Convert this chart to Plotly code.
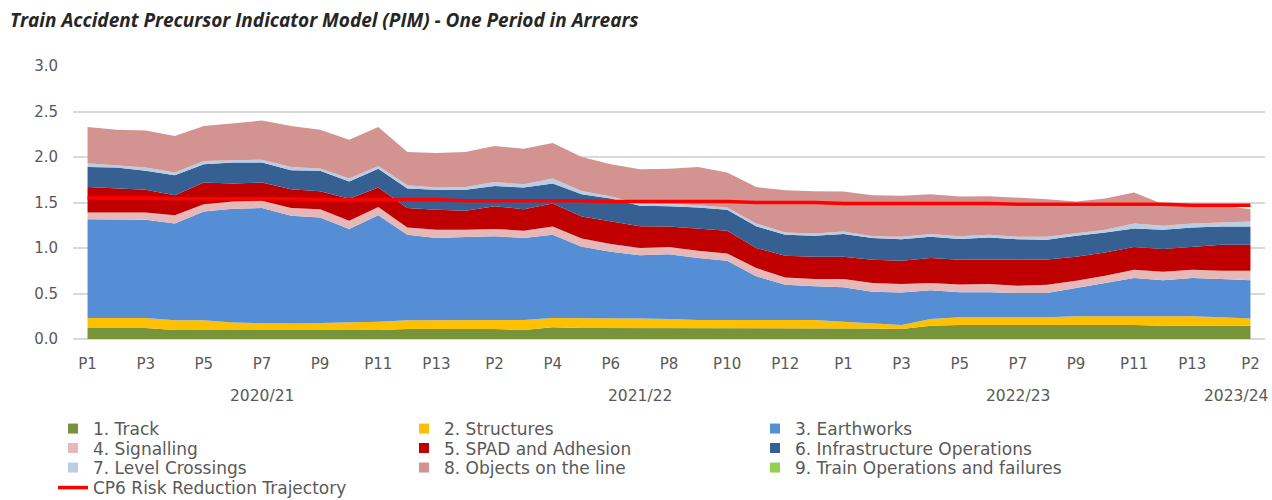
import plotly.graph_objects as go

periods = ["P1","P2","P3","P4","P5","P6","P7","P8","P9","P10","P11","P12","P13",
           "P1","P2","P3","P4","P5","P6","P7","P8","P9","P10","P11","P12","P13",
           "P1","P2","P3","P4","P5","P6","P7","P8","P9","P10","P11","P12","P13",
           "P1","P2"]
years = ["2020/21", "2021/22", "2022/23", "2023/24"]
year_centres = [6, 19, 32, 39.5]

track = [.12,.12,.12,.10,.10,.095,.095,.095,.095,.095,.10,.11,.11,
         .11,.11,.10,.13,.12,.12,.12,.12,.12,.12,.12,.12,.12,
         .12,.115,.11,.145,.155,.155,.155,.155,.155,.155,.155,.145,.145,
         .145,.145]
structures = [.11,.11,.11,.105,.105,.085,.08,.075,.08,.085,.09,.095,.095,
              .095,.10,.11,.10,.11,.105,.105,.10,.09,.09,.09,.09,.09,
              .07,.06,.045,.075,.085,.085,.085,.085,.095,.095,.10,.105,.105,
              .095,.08]
earthworks = [1.085,1.085,1.08,1.065,1.195,1.25,1.265,1.185,1.16,1.03,1.17,.94,.905,
              .915,.92,.90,.915,.785,.735,.695,.71,.68,.65,.48,.385,.37,
              .38,.345,.355,.315,.275,.275,.265,.265,.31,.365,.415,.395,.42,
              .42,.42]
signalling = [.075,.075,.08,.09,.08,.08,.08,.085,.09,.09,.09,.08,.09,
              .08,.08,.08,.09,.09,.085,.08,.08,.08,.08,.09,.08,.08,
              .09,.095,.095,.08,.085,.09,.08,.09,.08,.08,.09,.095,.09,
              .09,.105]
spad = [.28,.265,.25,.22,.24,.20,.20,.205,.20,.24,.215,.215,.22,
        .21,.25,.235,.255,.24,.245,.24,.225,.24,.25,.22,.24,.245,
        .245,.255,.255,.275,.27,.27,.285,.28,.265,.255,.25,.25,.255,
        .285,.285]
infra_ops = [.22,.23,.21,.22,.20,.23,.22,.21,.225,.19,.205,.215,.22,
             .23,.22,.24,.22,.245,.255,.225,.225,.235,.23,.24,.23,.23,
             .25,.24,.235,.235,.23,.24,.225,.215,.23,.22,.205,.21,.21,
             .20,.20]
level_crossings = [.04,.025,.035,.03,.035,.025,.03,.035,.025,.035,.03,.035,.025,
                   .03,.045,.035,.055,.035,.02,.025,.025,.025,.025,.03,.025,.025,
                   .025,.02,.03,.03,.03,.03,.03,.035,.025,.03,.055,.045,.045,
                   .045,.055]
objects = [.40,.39,.405,.40,.385,.405,.43,.45,.425,.425,.43,.365,.38,
           .385,.395,.39,.39,.375,.355,.375,.385,.42,.385,.40,.465,.465,
           .44,.45,.45,.435,.435,.425,.43,.41,.35,.345,.34,.235,.215,
           .19,.135]
train_ops = [0.0] * 41
cp6 = [1.55,1.55,1.55,1.54,1.54,1.54,1.54,1.54,1.53,1.53,1.53,1.53,1.53,
       1.52,1.52,1.52,1.52,1.52,1.51,1.51,1.51,1.51,1.51,1.50,1.50,1.50,
       1.49,1.49,1.49,1.49,1.49,1.49,1.48,1.48,1.48,1.48,1.48,1.48,1.47,
       1.47,1.47]

series = [
    ("1. Track", track, "#77933C"),
    ("2. Structures", structures, "#FFC000"),
    ("3. Earthworks", earthworks, "#558ED5"),
    ("4. Signalling", signalling, "#E6B9B8"),
    ("5. SPAD and Adhesion", spad, "#C00000"),
    ("6. Infrastructure Operations", infra_ops, "#366092"),
    ("7. Level Crossings", level_crossings, "#B9CDE5"),
    ("8. Objects on the line", objects, "#D39391"),
    ("9. Train Operations and failures", train_ops, "#92D050"),
]
legend_ids = ["legend", "legend", "legend",
              "legend2", "legend2", "legend2",
              "legend3", "legend3", "legend3"]

x = list(range(len(periods)))
fig = go.Figure()
for name, vals, col in series:
    fig.add_trace(go.Scatter(x=x, y=vals, name=name, mode="lines", stackgroup="one",
                             line=dict(width=0, color=col), fillcolor=col,
                             showlegend=False))
for (name, vals, col), lg in zip(series, legend_ids):
    fig.add_trace(go.Scatter(x=[None], y=[None], name=name, mode="markers",
                             marker=dict(symbol="square", size=10, color=col),
                             showlegend=True, legend=lg))
fig.add_trace(go.Scatter(x=x, y=cp6, name="CP6 Risk Reduction Trajectory", mode="lines",
                         line=dict(color="#FF0000", width=3.5), legend="legend4"))

title_font = "Open Sans, Liberation Sans, sans-serif"
txt_font = "DejaVu Sans, Liberation Sans, sans-serif"
tick_idx = x[::2]

plot_bottom, plot_h = 339, 273
def py(pix):
    return -(pix - plot_bottom) / plot_h

leg_common = dict(orientation="h", x=-0.0168, xanchor="left", yanchor="middle",
                  entrywidth=306, entrywidthmode="pixels", itemwidth=30,
                  font=dict(family=txt_font, size=17, color="#595959"),
                  bgcolor="rgba(0,0,0,0)", traceorder="normal")

fig.update_layout(
    width=1272, height=500,
    margin=dict(l=73, r=7, t=66, b=161, autoexpand=False),
    paper_bgcolor="white", plot_bgcolor="white",
    font=dict(family=txt_font, size=15, color="#595959"),
    title=dict(text="Train Accident Precursor Indicator Model (PIM) - One Period in Arrears",
               x=10/1272, xref="container", xanchor="left",
               y=1 - 20/500, yref="container", yanchor="middle",
               font=dict(family=title_font, size=19, color="#262626", weight="bold", style="italic")),
    xaxis=dict(range=[-0.5, 40.5], tickvals=tick_idx, ticktext=[periods[i] for i in tick_idx],
               showgrid=False, zeroline=False, showline=False, ticks="",
               ticklabelstandoff=14, tickfont=dict(family=txt_font, size=15, color="#595959")),
    yaxis=dict(range=[0, 3.0], dtick=0.5, tickformat=".1f", showgrid=True,
               gridcolor="#D9D9D9", gridwidth=1.5, zeroline=True, zerolinecolor="#D9D9D9",
               zerolinewidth=1.5, showline=False, ticks="", ticklabelstandoff=14,
               tickfont=dict(family=txt_font, size=15, color="#595959")),
    legend=dict(y=py(429), **leg_common),
    legend2=dict(y=py(448.5), **leg_common),
    legend3=dict(y=py(468), **leg_common),
    legend4=dict(y=py(488), **leg_common),
    showlegend=True,
)
for yr, xc in zip(years, year_centres):
    fig.add_annotation(text=yr, x=xc, xref="x", y=py(396), yref="paper",
                       showarrow=False, xanchor="center", yanchor="middle",
                       font=dict(family=txt_font, size=15.5, color="#595959"))

fig.write_html("out.html", config={"displayModeBar": False},
               post_script="document.body.style.margin='0';")
